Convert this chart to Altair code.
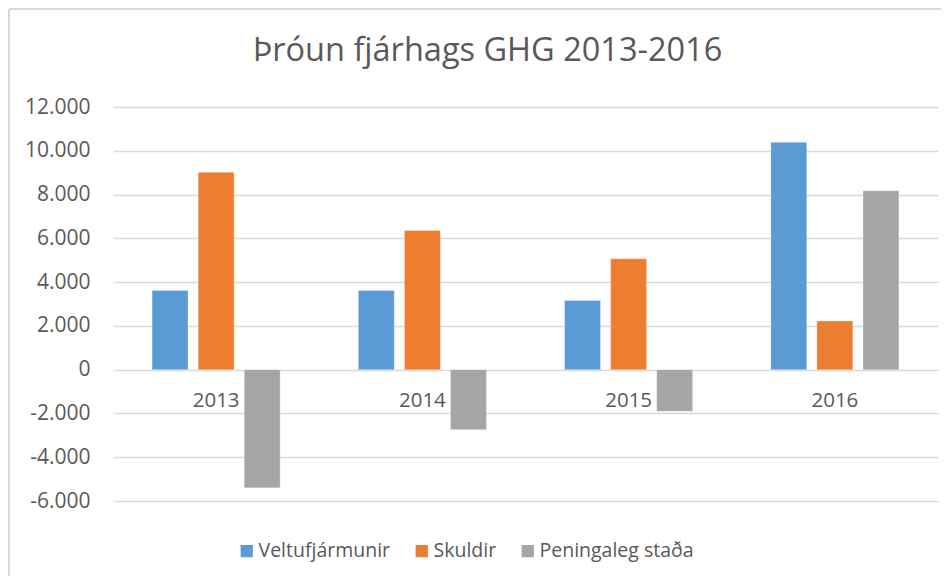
import altair as alt
import pandas as pd

years = ["2013", "2014", "2015", "2016"]
series = ["Veltufjármunir", "Skuldir", "Peningaleg staða"]
veltufjarmunir = [3620, 3620, 3160, 10390]
skuldir = [9020, 6360, 5070, 2220]
peningaleg = [-5400, -2740, -1900, 8170]
colors = ["#5B9BD5", "#ED7D31", "#A5A5A5"]
y_ticks = [-6000, -4000, -2000, 0, 2000, 4000, 6000, 8000, 10000, 12000]

rows = []
for name, vals in zip(series, [veltufjarmunir, skuldir, peningaleg]):
    for yr, v in zip(years, vals):
        rows.append({"year": yr, "series": name, "value": v})
df = pd.DataFrame(rows)
cat_df = pd.DataFrame({"year": years})

FONT = "Open Sans"
TXT = "#595959"

x_enc = alt.X("year:N", sort=years, axis=None,
              scale=alt.Scale(paddingInner=0.33, paddingOuter=0.165))

bars = alt.Chart(df).mark_bar(stroke="white", strokeOpacity=0.6, strokeWidth=0.5).encode(
    x=x_enc,
    xOffset=alt.XOffset("series:N", sort=series,
                        scale=alt.Scale(paddingInner=0.22, paddingOuter=0.11)),
    y=alt.Y("value:Q",
            scale=alt.Scale(domain=[-6000, 12000], nice=False),
            axis=alt.Axis(values=y_ticks, title=None, domain=False, ticks=False,
                          grid=True, gridColor="#D9D9D9", gridWidth=1.3,
                          labelFont=FONT, labelFontSize=21, labelColor=TXT,
                          labelPadding=23,
                          labelExpr="replace(replace(format(datum.value, ','), ',', '.'), '\u2212', '-')")),
    color=alt.Color("series:N", sort=series,
                    scale=alt.Scale(domain=series, range=colors),
                    legend=alt.Legend(title=None, orient="none", direction="horizontal",
                                      legendX=124, legendY=434,
                                      symbolType="square", symbolSize=150,
                                      symbolStrokeWidth=0,
                                      labelFont=FONT, labelFontSize=19.5, labelColor=TXT,
                                      labelOffset=2, columnPadding=21)),
)

labels = alt.Chart(cat_df).mark_text(font=FONT, fontSize=20.5, color=TXT,
                                     baseline="middle", dy=31).encode(
    x=alt.X("year:N", sort=years),
    y=alt.datum(0),
    text="year:N",
)

border_top = alt.Chart(cat_df).mark_rule(color="#D9D9D9", strokeWidth=2).encode(
    x=alt.value(-104), x2=alt.value(840), y=alt.value(-98)
)
border_left = alt.Chart(cat_df).mark_rule(color="#D9D9D9", strokeWidth=2).encode(
    x=alt.value(-104), y=alt.value(-98), y2=alt.value(480)
)

chart = alt.layer(border_top, border_left, bars, labels).properties(
    width=825,
    height=394,
    autosize=alt.AutoSizeParams(type="none"),
    padding={"left": 105, "top": 99, "right": 3, "bottom": 75},
    title=alt.TitleParams("Þróun fjárhags GHG 2013-2016", font=FONT, fontSize=32.5,
                          fontWeight="normal", color=TXT, anchor="middle",
                          dx=-38, offset=-59),
).configure_view(stroke=None).configure_axis(gridColor="#D9D9D9")

chart.save("out.html", embed_options={"renderer": "svg", "actions": False})
